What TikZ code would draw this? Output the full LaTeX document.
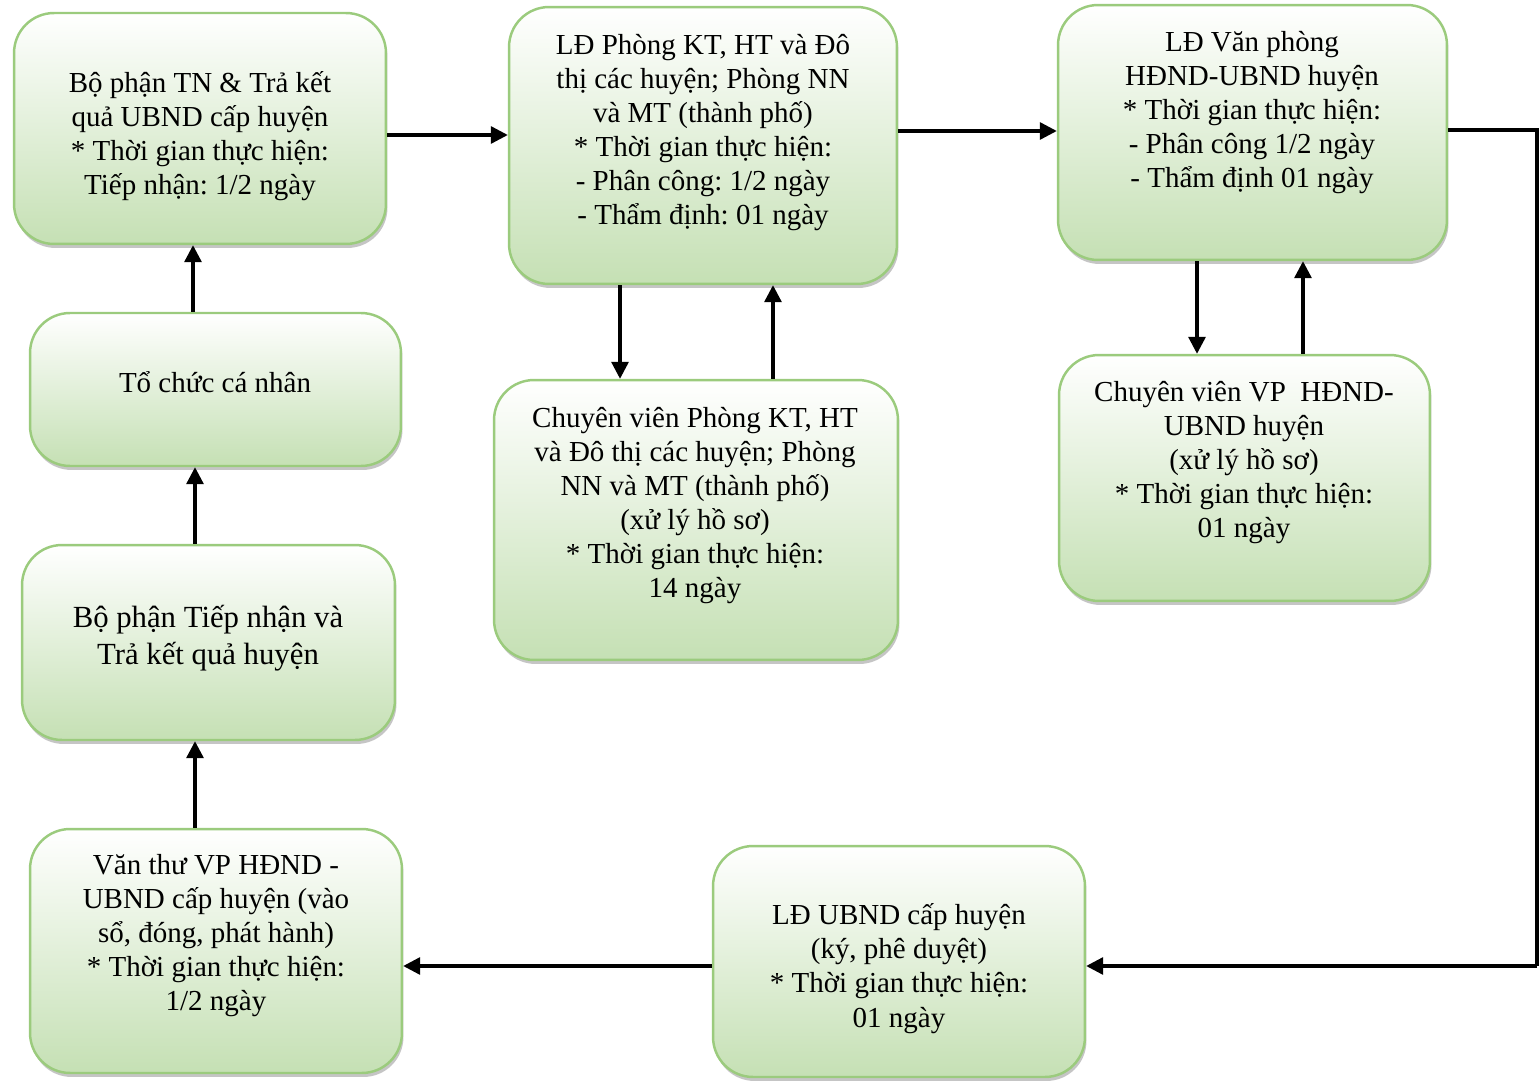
\documentclass[tikz,border=0pt]{standalone}
\usepackage{fontspec}
\setmainfont{Liberation Serif}
\usetikzlibrary{arrows.meta,shadows}
\definecolor{boxgreen}{RGB}{197,224,180}
\definecolor{edgegreen}{RGB}{155,203,125}
\tikzset{
  stepbox/.style={draw=edgegreen, line width=1.4pt, rounded corners=0.8cm,
    top color=white, bottom color=boxgreen,
    drop shadow={shadow xshift=0.03cm, shadow yshift=-0.08cm, fill=black!45}},
  boxtext/.style={align=center, font=\fontsize{16.5}{19.4}\selectfont, inner sep=0pt},
  flow/.style={line width=1.8pt, -{Triangle[length=0.34cm,width=0.34cm]}}
}
\begin{document}
\frenchspacing
\begin{tikzpicture}[x=0.02cm, y=-0.02cm]
  \useasboundingbox (0,0) rectangle (1539,1081);
  % Top row of boxes
  \node[stepbox, minimum width=7.44cm, minimum height=4.62cm] (tn) at (200,128.5) {};
  \node[boxtext] (tn-t) at (200,136) {Bộ phận TN \& Trả kết\\quả UBND cấp huyện\\* Thời gian thực hiện:\\Tiếp nhận: 1/2 ngày};
  \node[stepbox, minimum width=7.76cm, minimum height=5.54cm] (ldkt) at (703,145.5) {};
  \node[boxtext] (ldkt-t) at (703,132.5) {LĐ Phòng KT, HT và Đô\\thị các huyện; Phòng NN\\và MT (thành phố)\\* Thời gian thực hiện:\\- Phân công: 1/2 ngày\\- Thẩm định: 01 ngày};
  \node[stepbox, minimum width=7.78cm, minimum height=5.10cm] (ldvp) at (1252.5,132.5) {};
  \node[boxtext] (ldvp-t) at (1252,112.5) {LĐ Văn phòng\\HĐND-UBND huyện\\* Thời gian thực hiện:\\- Phân công 1/2 ngày\\- Thẩm định 01 ngày};
  % Middle row
  \node[stepbox, minimum width=7.42cm, minimum height=3.06cm] (tochuc) at (215.5,389.5) {};
  \node[boxtext] (tochuc-t) at (215,382) {Tổ chức cá nhân};
  \node[stepbox, minimum width=8.08cm, minimum height=5.60cm] (cvkt) at (696,520) {};
  \node[boxtext] (cvkt-t) at (695,505.5) {Chuyên viên Phòng KT, HT\\và Đô thị các huyện; Phòng\\NN và MT (thành phố)\\(xử lý hồ sơ)\\* Thời gian thực hiện:\\14 ngày};
  \node[stepbox, minimum width=7.42cm, minimum height=4.92cm] (cvvp) at (1244.5,478) {};
  \node[boxtext] (cvvp-t) at (1244,462.5) {Chuyên viên VP\ \ HĐND-\\UBND huyện\\(xử lý hồ sơ)\\* Thời gian thực hiện:\\01 ngày};
  \node[stepbox, minimum width=7.46cm, minimum height=3.90cm] (tnkq) at (208.5,642.5) {};
  \node[boxtext, font=\fontsize{17.5}{21}\selectfont] (tnkq-t) at (208,638.5) {Bộ phận Tiếp nhận và\\Trả kết quả huyện};
  % Bottom row
  \node[stepbox, minimum width=7.44cm, minimum height=4.88cm] (vanthu) at (216,951) {};
  \node[boxtext] (vanthu-t) at (216,935.5) {Văn thư VP HĐND -\\UBND cấp huyện (vào\\sổ, đóng, phát hành)\\* Thời gian thực hiện:\\1/2 ngày};
  \node[stepbox, minimum width=7.44cm, minimum height=4.62cm] (lducb) at (899,961.5) {};
  \node[boxtext] (lducb-t) at (899,968.5) {LĐ UBND cấp huyện\\(ký, phê duyệt)\\* Thời gian thực hiện:\\01 ngày};
  % Horizontal flow along the top
  \draw[flow] ([yshift=-0.13cm]tn.east) -- ([yshift=-0.13cm]tn.east -| ldkt.west);
  \draw[flow] ([yshift=0.29cm]ldkt.east) -- ([yshift=0.29cm]ldkt.east -| ldvp.west);
  % Loop down the right side
  \coordinate (turn) at (1537,966);
  \draw[line width=1.8pt] ([yshift=0.05cm]ldvp.east) -| (turn);
  \draw[flow] (turn) -- (turn -| lducb.east);
  \draw[flow] ([yshift=-0.09cm]lducb.west) -- ([yshift=-0.09cm]lducb.west -| vanthu.east);
  % Up the left column
  \draw[flow] ([xshift=-0.42cm]vanthu.north) -- ([xshift=-0.42cm]vanthu.north |- tnkq.south);
  \draw[flow] ([xshift=-0.27cm]tnkq.north) -- ([xshift=-0.27cm]tnkq.north |- tochuc.south);
  \draw[flow] ([xshift=-0.45cm]tochuc.north) -- ([xshift=-0.45cm]tochuc.north |- tn.south);
  % Exchanges with the specialists
  \draw[flow] ([xshift=-1.66cm]ldkt.south) -- ([xshift=-1.66cm]ldkt.south |- cvkt.north);
  \draw[flow] ([xshift=1.54cm]cvkt.north) -- ([xshift=1.54cm]cvkt.north |- ldkt.south);
  \draw[flow] ([xshift=-1.11cm]ldvp.south) -- ([xshift=-1.11cm]ldvp.south |- cvvp.north);
  \draw[flow] ([xshift=1.17cm]cvvp.north) -- ([xshift=1.17cm]cvvp.north |- ldvp.south);
\end{tikzpicture}
\end{document}
